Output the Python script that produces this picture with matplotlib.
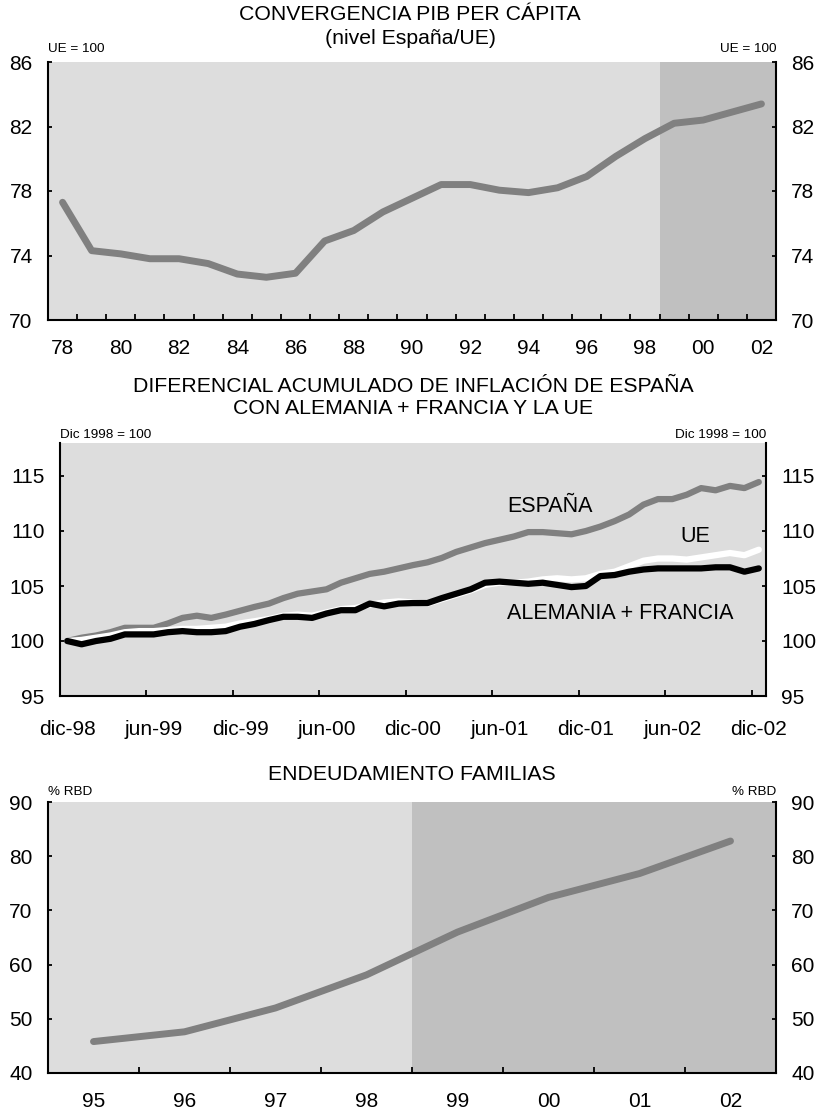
import numpy as np
import matplotlib
matplotlib.use("Agg")
import matplotlib.pyplot as plt

plt.rcParams['font.family'] = ['Liberation Sans', 'DejaVu Sans']

# --- data ---
pib_years = ['78', '79', '80', '81', '82', '83', '84', '85', '86', '87', '88', '89',
             '90', '91', '92', '93', '94', '95', '96', '97', '98', '99', '00', '01', '02']
pib_values = [77.3, 74.3, 74.1, 73.8, 73.8, 73.5, 72.85, 72.65, 72.9, 74.9, 75.55, 76.7,
              77.55, 78.4, 78.4, 78.05, 77.9, 78.2, 78.9, 80.15, 81.25, 82.2, 82.4, 82.9, 83.4]

months = ['dic-98', 'jun-99', 'dic-99', 'jun-00', 'dic-00', 'jun-01', 'dic-01', 'jun-02', 'dic-02']
espana = [100.0, 100.3, 100.5, 100.8, 101.2, 101.2, 101.2, 101.6, 102.1, 102.3, 102.1, 102.4,
          102.75, 103.1, 103.4, 103.9, 104.3, 104.5, 104.7, 105.3, 105.7, 106.1, 106.3, 106.6,
          106.9, 107.15, 107.55, 108.1, 108.5, 108.9, 109.2, 109.5, 109.9, 109.9, 109.8, 109.7,
          110.0, 110.4, 110.9, 111.5, 112.4, 112.9, 112.9, 113.3, 113.9, 113.7, 114.1, 113.9, 114.45]
ue = [100.0, 100.1, 100.3, 100.5, 100.8, 100.9, 100.9, 101.0, 101.1, 101.1, 101.2, 101.3,
      101.6, 101.8, 102.0, 102.3, 102.4, 102.3, 102.6, 102.9, 103.0, 103.3, 103.5, 103.6,
      103.5, 103.4, 103.8, 104.2, 104.6, 105.1, 105.3, 105.3, 105.4, 105.6, 105.7, 105.6,
      105.7, 106.1, 106.3, 106.8, 107.3, 107.5, 107.5, 107.4, 107.6, 107.8, 108.0, 107.8, 108.3]
ale_fra = [100.0, 99.7, 100.0, 100.2, 100.6, 100.6, 100.6, 100.8, 100.9, 100.8, 100.8, 100.9,
           101.3, 101.55, 101.9, 102.2, 102.2, 102.1, 102.5, 102.8, 102.8, 103.4, 103.15, 103.4,
           103.45, 103.45, 103.9, 104.3, 104.7, 105.3, 105.4, 105.3, 105.2, 105.3, 105.1, 104.9,
           105.0, 105.9, 106.0, 106.3, 106.5, 106.6, 106.6, 106.6, 106.6, 106.7, 106.7, 106.3, 106.6]

deuda_years = ['95', '96', '97', '98', '99', '00', '01', '02']
deuda_values = [45.8, 47.6, 52.0, 58.1, 66.0, 72.4, 76.8, 82.8]

LIGHT = '#dddddd'
DARK = '#c0c0c0'
LINE = '#808080'

W, H = 821, 1116
fig = plt.figure(figsize=(W / 100, H / 100), dpi=100)


def box(l, t, r, b):
    return [l / W, 1 - b / H, (r - l) / W, (b - t) / H]


def px(x, y):
    # pixel position -> figure fraction
    return x / W, 1 - y / H


def style(ax, ylim, yticks, xpad):
    ax.set_ylim(*ylim)
    ax.set_yticks(yticks)
    ax.set_facecolor(LIGHT)
    ax.spines['top'].set_visible(False)
    for s in ['left', 'right', 'bottom']:
        ax.spines[s].set_linewidth(1.5)
    ax.tick_params(axis='y', which='major', direction='in', left=True, right=True,
                   labelleft=True, labelright=True, length=3, width=1.3, pad=11, labelsize=15)
    ax.tick_params(axis='x', which='major', direction='in', length=4, width=1.3,
                   labelbottom=False)
    ax.tick_params(axis='x', which='minor', length=0, pad=xpad, labelsize=15)


TITLE = 15.3
UNIT = 9.7

# ---------- top: PIB per capita ----------
ax1 = fig.add_axes(box(48, 62, 776, 320))
x1 = np.arange(len(pib_years))
ax1.set_xlim(-0.5, len(pib_years) - 0.5)
ax1.axvspan(pib_years.index('99') - 0.5, len(pib_years) - 0.5, color=DARK, lw=0, zorder=0)
ax1.plot(x1, pib_values, color=LINE, lw=5, solid_capstyle='round', solid_joinstyle='round')
style(ax1, (70, 86), [70, 74, 78, 82, 86], 14)
ax1.set_xticks(np.arange(0.5, len(pib_years) - 1, 1))
ax1.set_xticks(x1[::2], minor=True)
ax1.set_xticklabels(pib_years[::2], minor=True)
fig.text(*px(410, 15), 'CONVERGENCIA PIB PER CÁPITA', ha='center', va='center', fontsize=TITLE)
fig.text(*px(410, 38), '(nivel España/UE)', ha='center', va='center', fontsize=TITLE)
fig.text(*px(48, 49), 'UE = 100', ha='left', va='center', fontsize=UNIT)
fig.text(*px(776, 49), 'UE = 100', ha='right', va='center', fontsize=UNIT)

# ---------- middle: inflation differential ----------
ax2 = fig.add_axes(box(60, 443, 766, 696))
x2 = np.arange(len(espana))
ax2.set_xlim(-0.5, len(espana) - 0.5)
ax2.plot(x2, espana, color=LINE, lw=4.5, solid_capstyle='round', solid_joinstyle='round')
ax2.plot(x2, ue, color='white', lw=4.5, solid_capstyle='round', solid_joinstyle='round')
ax2.plot(x2, ale_fra, color='black', lw=4.5, solid_capstyle='round', solid_joinstyle='round')
style(ax2, (95, 118), [95, 100, 105, 110, 115], 17)
ax2.set_xticks(np.arange(5.5, len(espana) - 1, 6))
ax2.set_xticks(x2[::6], minor=True)
ax2.set_xticklabels(months, minor=True)
ax2.text(33.5, 112.2, 'ESPAÑA', ha='center', va='center', fontsize=15.5)
ax2.text(43.6, 109.5, 'UE', ha='center', va='center', fontsize=15.5)
ax2.text(38.4, 102.5, 'ALEMANIA + FRANCIA', ha='center', va='center', fontsize=15.5)
fig.text(*px(413, 386), 'DIFERENCIAL ACUMULADO DE INFLACIÓN DE ESPAÑA',
         ha='center', va='center', fontsize=TITLE)
fig.text(*px(413, 409), 'CON ALEMANIA + FRANCIA Y LA UE',
         ha='center', va='center', fontsize=TITLE)
fig.text(*px(60, 435), 'Dic 1998 = 100', ha='left', va='center', fontsize=UNIT)
fig.text(*px(766, 435), 'Dic 1998 = 100', ha='right', va='center', fontsize=UNIT)

# ---------- bottom: household debt ----------
ax3 = fig.add_axes(box(48, 802, 776, 1073))
x3 = np.arange(len(deuda_years))
ax3.set_xlim(-0.5, len(deuda_years) - 0.5)
ax3.axvspan(deuda_years.index('99') - 0.5, len(deuda_years) - 0.5, color=DARK, lw=0, zorder=0)
ax3.plot(x3, deuda_values, color=LINE, lw=5, solid_capstyle='round', solid_joinstyle='round')
style(ax3, (40, 90), [40, 50, 60, 70, 80, 90], 14)
ax3.set_xticks(np.arange(0.5, len(deuda_years) - 1, 1))
ax3.set_xticks(x3, minor=True)
ax3.set_xticklabels(deuda_years, minor=True)
fig.text(*px(412, 775), 'ENDEUDAMIENTO FAMILIAS', ha='center', va='center', fontsize=TITLE)
fig.text(*px(48, 792), '% RBD', ha='left', va='center', fontsize=UNIT)
fig.text(*px(776, 792), '% RBD', ha='right', va='center', fontsize=UNIT)

fig.savefig('out.png', dpi=100)
